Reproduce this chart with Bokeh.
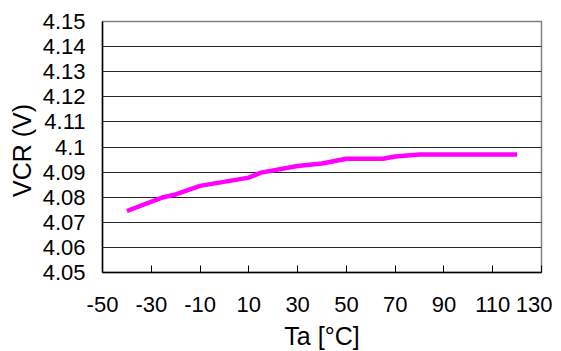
from bokeh.plotting import figure
from bokeh.models import Range1d, FixedTicker, CustomJSTickFormatter
from bokeh.embed import file_html
from bokeh.resources import INLINE

temps = [-40, -25, -20, -10, 10, 15, 30, 40, 50, 65, 70, 80, 90, 100, 110, 120]
vcr = [4.0745, 4.0800, 4.0811, 4.0845, 4.0878, 4.0898, 4.0924, 4.0934, 4.0953,
       4.0953, 4.0962, 4.0970, 4.0970, 4.0970, 4.0970, 4.0970]
x_ticks = [-50, -30, -10, 10, 30, 50, 70, 90, 110, 130]
y_ticks = [4.05, 4.06, 4.07, 4.08, 4.09, 4.10, 4.11, 4.12, 4.13, 4.14, 4.15]

FONT = "Liberation Sans"

p = figure(frame_width=439, frame_height=251, output_backend="svg", toolbar_location=None,
           x_range=Range1d(-50, 130), y_range=Range1d(4.05, 4.15),
           min_border_left=102, min_border_right=11, min_border_top=21, min_border_bottom=72)
p.background_fill_color = "white"
p.border_fill_color = "white"
p.outline_line_color = "#808080"
p.outline_line_width = 1.5

p.line(temps, vcr, line_color="#FF00FF", line_width=4.5)

p.xaxis.ticker = FixedTicker(ticks=x_ticks)
p.yaxis.ticker = FixedTicker(ticks=y_ticks)
p.xaxis.formatter = CustomJSTickFormatter(code="return tick.toString();")
p.yaxis.formatter = CustomJSTickFormatter(code="return parseFloat(tick.toFixed(2)).toString();")

p.xgrid.grid_line_color = None
p.ygrid.grid_line_color = "#000000"
p.ygrid.grid_line_width = 1
p.ygrid.grid_line_alpha = 0.85

for ax in (p.xaxis[0], p.yaxis[0]):
    ax.axis_line_color = "#000000"
    ax.axis_line_width = 1.5
    ax.minor_tick_line_color = None
    ax.major_label_text_font = FONT
    ax.major_label_text_font_size = "22px"
    ax.major_label_text_color = "#000000"
    ax.axis_label_text_font = FONT
    ax.axis_label_text_font_size = "25px"
    ax.axis_label_text_font_style = "normal"
    ax.axis_label_text_color = "#000000"

p.xaxis.major_tick_in = 7
p.xaxis.major_tick_out = 0
p.xaxis.major_tick_line_color = "#000000"
p.xaxis.major_label_standoff = 24
p.xaxis.axis_label = "Ta [°C]"
p.xaxis.axis_label_standoff = 7

p.yaxis.major_tick_in = 0
p.yaxis.major_tick_out = 0
p.yaxis.major_label_standoff = 17
p.yaxis.axis_label = "VCR  (V)"
p.yaxis.axis_label_standoff = 4

open("out.html", "w").write(file_html(p, INLINE))
